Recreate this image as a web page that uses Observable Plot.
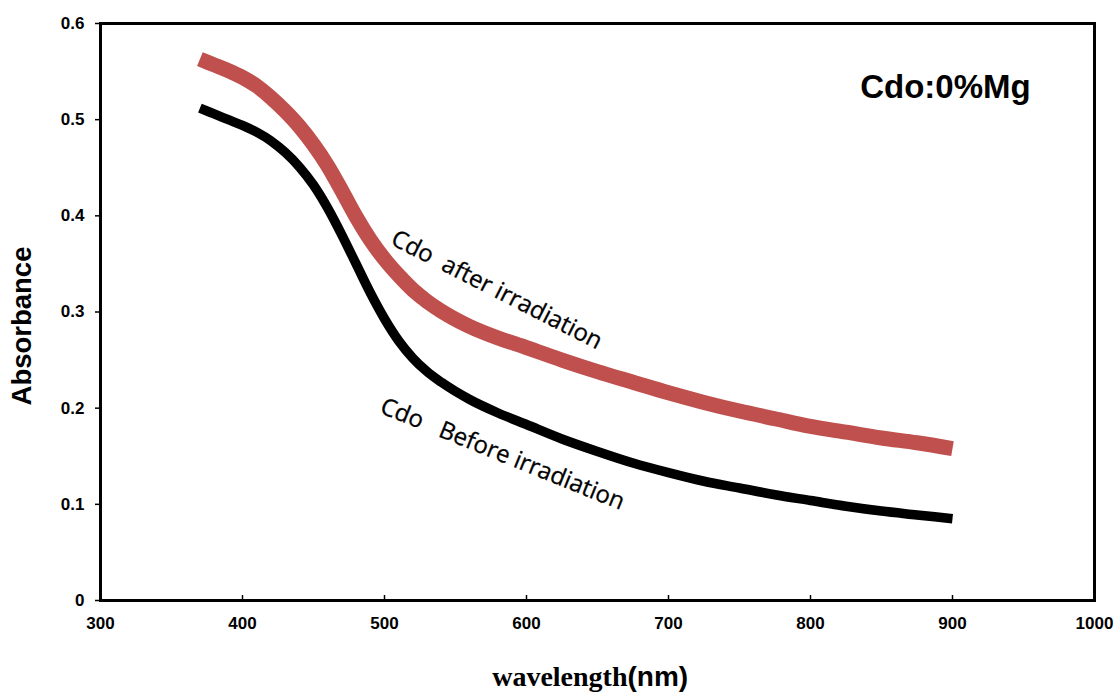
<!DOCTYPE html>
<html><head><meta charset="utf-8">
<script src="https://cdn.jsdelivr.net/npm/d3@7"></script>
<script src="https://cdn.jsdelivr.net/npm/@observablehq/plot@0.6"></script>
<style>body{margin:0;background:#fff}</style>
</head><body><div id="chart"></div>
<script>
const wavelength = [370,380,390,400,410,420,430,440,450,460,470,480,490,500,510,520,530,540,560,580,600,625,650,675,700,725,750,775,800,825,850,875,900];
const beforeAbs = [0.512,0.506,0.500,0.494,0.487,0.478,0.466,0.451,0.432,0.408,0.380,0.350,0.320,0.293,0.270,0.252,0.238,0.227,0.209,0.195,0.183,0.168,0.155,0.143,0.133,0.124,0.117,0.110,0.104,0.098,0.093,0.089,0.085];
const afterAbs  = [0.563,0.557,0.551,0.544,0.535,0.523,0.509,0.493,0.474,0.452,0.426,0.399,0.375,0.355,0.338,0.323,0.311,0.301,0.285,0.273,0.263,0.250,0.238,0.227,0.216,0.206,0.197,0.189,0.181,0.175,0.169,0.164,0.158];
const xTicks = [300,400,500,600,700,800,900,1000];
const yTicks = [0,0.1,0.2,0.3,0.4,0.5,0.6];
const annText = ["Cdo  after irradiation","Cdo   Before irradiation"];
const annX = [506,498];
const annY = [0.378,0.203];
const annAngle = [27,22];
const panelTitle = "Cdo:0%Mg";
const yLabel = "Absorbance";
const xLabelA = "wavelength";
const xLabelB = "(nm)";

const before = wavelength.map((w,i)=>({w, a: beforeAbs[i]}));
const after = wavelength.map((w,i)=>({w, a: afterAbs[i]}));
const ann = annText.map((t,i)=>({t, x: annX[i], y: annY[i], r: annAngle[i]}));

const chart = Plot.plot({
  width: 1116, height: 698,
  marginLeft: 100, marginRight: 22, marginTop: 23, marginBottom: 98,
  style: {fontFamily: "Liberation Sans, Arial, sans-serif", background: "#fff", color: "#000"},
  x: {domain: [300,1000]},
  y: {domain: [0,0.6]},
  marks: [
    Plot.line(after, {x:"w", y:"a", stroke:"#c0504d", strokeWidth:15, curve:"monotone-x", strokeLinecap:"butt"}),
    Plot.line(before, {x:"w", y:"a", stroke:"#000", strokeWidth:9.5, curve:"monotone-x", strokeLinecap:"butt"}),
    Plot.frame({stroke:"#000", strokeWidth:3}),
    Plot.axisX(xTicks, {tickSize:-5, tickPadding:21, fontSize:17, fontWeight:"bold", label:null, strokeWidth:1.5, tickFormat: d => String(d)}),
    Plot.axisY(yTicks, {tickSize:5, tickPadding:11, fontSize:17, fontWeight:"bold", label:null, strokeWidth:1.5, tickFormat: d => d === 0 ? "0" : d.toFixed(1)}),
    Plot.text(ann, {x:"x", y:"y", text:"t", rotate:"r", textAnchor:"start", lineAnchor:"middle", fontSize:24, fontFamily:"Open Sans", fill:"#000", stroke:"#000", strokeWidth:0.3}),
    Plot.text([panelTitle], {x:[835], y:[0.533], text:d=>d, textAnchor:"start", fontSize:33, fontWeight:"bold", fill:"#000"}),
    Plot.text([yLabel], {frameAnchor:"left", dx:-78, dy:14, rotate:-90, text:d=>d, textAnchor:"middle", fontSize:27.5, fontWeight:"bold", fill:"#000"}),
    Plot.text([xLabelA], {frameAnchor:"bottom", dx:30, dy:85, text:d=>d, textAnchor:"end", fontSize:28, fontWeight:"bold", fontFamily:"Liberation Serif, Times New Roman, serif", fill:"#000"}),
    Plot.text([xLabelB], {frameAnchor:"bottom", dx:30, dy:85, text:d=>d, textAnchor:"start", fontSize:28, fontWeight:"bold", fill:"#000"})
  ]
});
document.getElementById("chart").appendChild(chart);
</script></body></html>
